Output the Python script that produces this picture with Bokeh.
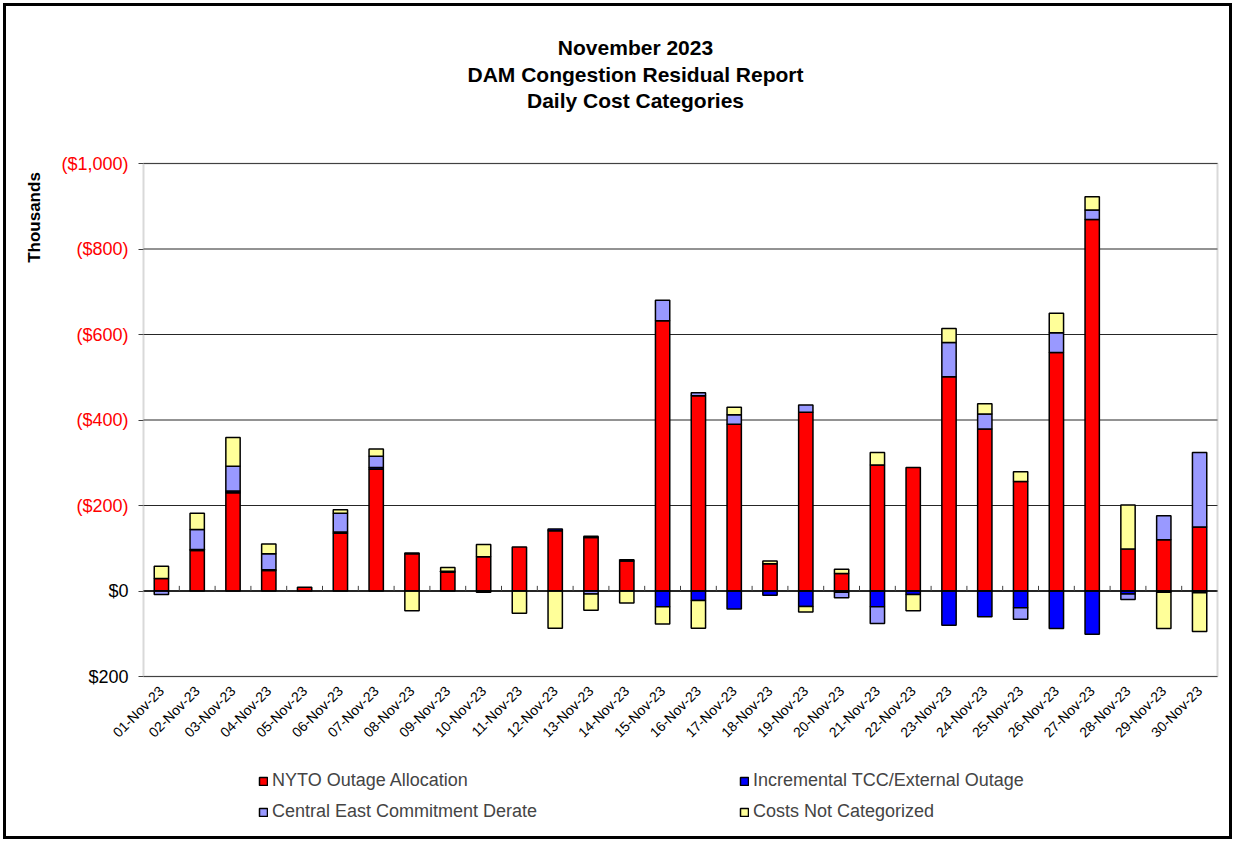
import math
from bokeh.plotting import figure
from bokeh.models import (Range1d, FixedTicker, Label, Legend, LegendItem, LinearAxis,
                          BoxAnnotation, ColumnDataSource)
from bokeh.embed import file_html
from bokeh.resources import INLINE

# ---------------- data (thousands of $, negative = cost, drawn upward) -------------
days = ["01-Nov-23", "02-Nov-23", "03-Nov-23", "04-Nov-23", "05-Nov-23", "06-Nov-23",
        "07-Nov-23", "08-Nov-23", "09-Nov-23", "10-Nov-23", "11-Nov-23", "12-Nov-23",
        "13-Nov-23", "14-Nov-23", "15-Nov-23", "16-Nov-23", "17-Nov-23", "18-Nov-23",
        "19-Nov-23", "20-Nov-23", "21-Nov-23", "22-Nov-23", "23-Nov-23", "24-Nov-23",
        "25-Nov-23", "26-Nov-23", "27-Nov-23", "28-Nov-23", "29-Nov-23", "30-Nov-23"]

nyto_outage = [-29, -95, -230, -48, -9, -135, -285, -87, -44, -80, -103, -141, -125, -70,
               -632, -457, -390, -64, -418, -41, -295, -289, -501, -379, -256, -558, -869,
               -98, -120, -150]
incremental_tcc = [0, -2, -4, -2, 0, -3, -4, -2, -2, 3, 0, -4, -3, -3,
                   37, 22, 42, 10, 36, 3, 37, 8, 80, 60, 39, 88, 101, 7, 3, 4]
central_east = [8, -47, -58, -37, 0, -44, -26, 0, 0, 0, 0, 0, 7, 0,
                -48, -7, -22, 0, -17, 13, 39, 0, -80, -35, 27, -46, -22, 13, -56, -174]
not_categorized = [-29, -38, -67, -23, 0, -8, -17, 46, -9, -29, 52, 87, 38, 28,
                   40, 65, -18, -6, 13, -10, -29, 38, -33, -24, -23, -46, -31, -103, 85, 91]

series_names = ["NYTO Outage Allocation", "Incremental TCC/External Outage",
                "Central East Commitment Derate", "Costs Not Categorized"]
series_values = [nyto_outage, incremental_tcc, central_east, not_categorized]
series_colors = ["#FF0000", "#0000FF", "#9999FF", "#FFFF99"]

y_ticks = [-1000, -800, -600, -400, -200, 0, 200]

# ---------------- geometry (page pixels) ----------------
FONT = "Liberation Sans"
W, H = 1229, 836                        # figure size (host is border-box)
CL, CT = 6, 6                           # canvas origin (margin 3 + border 3)
CR, CB = CL + W, CT + H                 # canvas far edges
FL, FT, FR, FB = 143, 163, 1217, 676    # plot-area edges
X0, X1 = 0.5, len(days) + 0.5
YTOP, YBOT = -1000, 200
PXX = (FR - FL) / (X1 - X0)
PXY = (FB - FT) / (YBOT - YTOP)


def dx(px):
    return X0 + (px - FL) / PXX


def dy(py):
    return YTOP + (py - FT) / PXY


p = figure(width=W, height=H,
           x_range=Range1d(dx(CL), dx(CR)), y_range=Range1d(dy(CB), dy(CT)),
           output_backend="svg", toolbar_location=None,
           min_border=0, min_border_left=0, min_border_right=0,
           min_border_top=0, min_border_bottom=0,
           background_fill_color="white", border_fill_color="white",
           styles={"border": "3px solid black", "margin": "3px 0 0 3px"})
p.title.visible = False
p.outline_line_color = None
p.xgrid.visible = False
p.ygrid.visible = False

# x axis (category labels) pinned to the bottom of the plot area
xs = [i + 1 for i in range(len(days))]
xax = p.xaxis[0]
xax.fixed_location = YBOT
xax.ticker = FixedTicker(ticks=xs)
xax.major_label_overrides = {x: d for x, d in zip(xs, days)}
xax.major_label_orientation = math.pi / 4
xax.axis_line_color = None
xax.major_tick_line_color = None
xax.minor_tick_line_color = None
xax.major_label_text_font = FONT
xax.major_label_text_font_size = "14px"
xax.major_label_text_color = "black"
xax.major_label_standoff = 6


def money(v):
    return "(${:,})".format(-v) if v < 0 else "${:,}".format(v)


def style_yaxis(ax, ticks, color):
    ax.fixed_location = X0
    ax.ticker = FixedTicker(ticks=ticks)
    ax.major_label_overrides = {v: money(v) for v in ticks}
    ax.major_label_text_color = color
    ax.major_label_text_font = FONT
    ax.major_label_text_font_size = "18px"
    ax.major_label_standoff = 10
    ax.axis_line_color = None
    ax.major_tick_line_color = "#404040"
    ax.major_tick_in = 0
    ax.major_tick_out = 5
    ax.minor_tick_line_color = None


style_yaxis(p.yaxis[0], [v for v in y_ticks if v < 0], "#FF0000")
yax2 = LinearAxis()
style_yaxis(yax2, [v for v in y_ticks if v >= 0], "black")
p.add_layout(yax2, "left")

# horizontal grid lines across the plot area
p.segment(x0=[X0] * len(y_ticks), x1=[X1] * len(y_ticks), y0=y_ticks, y1=y_ticks,
          line_color="#262626", line_width=1)

# stacked bars (negatives stacked upward, positives downward)
neg_cum = [0] * len(days)
pos_cum = [0] * len(days)
renderers = []
for name, vals, col in zip(series_names, series_values, series_colors):
    bx, bb, bt = [], [], []
    for i, v in enumerate(vals):
        if v == 0:
            continue
        if v < 0:
            b, t = neg_cum[i], neg_cum[i] + v
            neg_cum[i] = t
        else:
            b, t = pos_cum[i], pos_cum[i] + v
            pos_cum[i] = t
        bx.append(xs[i]); bb.append(b); bt.append(t)
    src = ColumnDataSource(dict(x=bx, bottom=bb, top=bt))
    r = p.vbar(x="x", width=0.4, bottom="bottom", top="top", source=src,
               fill_color=col, line_color="black", line_width=1.5)
    renderers.append(r)

# zero line with category separator ticks
p.segment(x0=[X0], x1=[X1], y0=[0], y1=[0], line_color="black", line_width=1.5)
bounds = [x + 0.5 for x in xs[:-1]]
p.segment(x0=bounds, y0=[0] * len(bounds), x1=bounds, y1=[-12] * len(bounds),
          line_color="#404040", line_width=1)

# plot-area border
p.add_layout(BoxAnnotation(left=X0, right=X1, bottom=YBOT, top=YTOP,
                           fill_color=None, fill_alpha=0,
                           line_color="#808080", line_width=2))

# title
for text, py in zip(["November 2023", "DAM Congestion Residual Report",
                     "Daily Cost Categories"], [47, 74, 100]):
    p.add_layout(Label(x=dx(635), y=dy(py), text=text, text_align="center",
                       text_baseline="middle", text_font=FONT, text_font_style="bold",
                       text_font_size="21px", text_color="black"))

p.add_layout(Label(x=dx(34), y=dy(217), text="Thousands", angle=math.pi / 2,
                   text_align="center", text_baseline="middle", text_font=FONT,
                   text_font_style="bold", text_font_size="17px", text_color="black"))

# legends (two rows, two columns)
for row, row_y in zip([(0, 1), (2, 3)], [782, 813]):
    leg = Legend(items=[LegendItem(label=series_names[k], renderers=[renderers[k]])
                        for k in row],
                 orientation="horizontal", location=(258 - CL, CB - (row_y + 9)),
                 padding=0, margin=0, spacing=0, glyph_width=10, glyph_height=10,
                 label_standoff=4, label_width=467, label_height=18,
                 label_text_font=FONT, label_text_font_size="18px",
                 background_fill_alpha=0, border_line_color=None)
    p.add_layout(leg, "center")

open("out.html", "w").write(file_html(p, INLINE))
